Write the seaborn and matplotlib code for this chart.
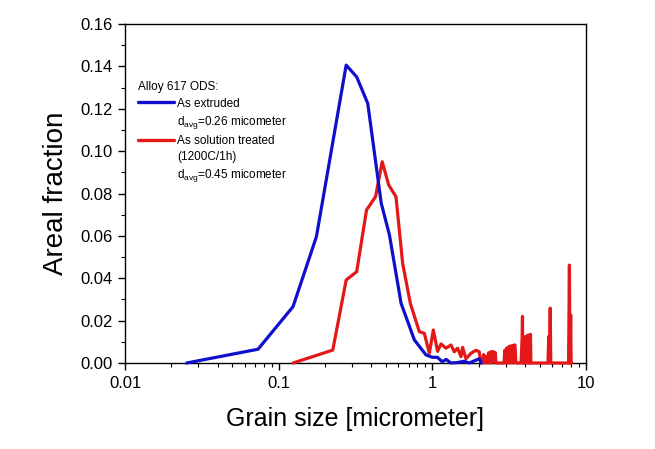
import matplotlib
matplotlib.use("Agg")
import matplotlib.pyplot as plt
from matplotlib.lines import Line2D
from matplotlib.ticker import MultipleLocator
import numpy as np
import pandas as pd
import seaborn as sns

# -----------------------------------------
# Data
# -----------------------------------------

# as extruded
ext_size = [0.0252, 0.0734, 0.124, 0.176, 0.275, 0.322, 0.380, 0.465, 0.526,
            0.626, 0.764, 0.910, 1.0, 1.078, 1.16, 1.23, 1.32, 1.45, 1.61,
            1.74, 1.90, 2.02, 2.08]
ext_frac = [0.0, 0.0065, 0.0266, 0.0596, 0.1406, 0.135, 0.1225, 0.0754, 0.0604,
            0.0282, 0.0109, 0.0038, 0.0027, 0.0027, 0.0006, 0.0017, 0.0, 0.0002,
            0.0008, 0.0, 0.0012, 0.002, 0.0]

# as solution treated (1200C/1h)
sol_size = [0.124, 0.225, 0.275, 0.322, 0.373, 0.427, 0.472, 0.520, 0.58,
            0.641, 0.72, 0.823, 0.887, 0.956, 1.015, 1.082, 1.139, 1.227, 1.322,
            1.390, 1.460, 1.536, 1.574, 1.655, 1.784, 1.922, 2.02, 2.07,
            2.12, 2.16, 2.19, 2.24, 2.28, 2.32, 2.36, 2.40, 2.44, 2.48, 2.52, 2.56, 2.60,
            2.93, 2.96, 3.0, 3.04, 3.08, 3.12, 3.16, 3.2, 3.25, 3.3, 3.35, 3.4, 3.45, 3.5,
            3.78, 3.84, 3.86, 3.88, 3.9, 3.93, 3.97, 4.0, 4.05, 4.1, 4.15, 4.2, 4.25,
            4.3, 4.35, 4.38,
            5.66, 5.72, 5.78, 5.85, 5.9,
            7.7, 7.8, 7.86, 7.95, 8.0, 8.05]
sol_frac = [0.0, 0.0061, 0.0392, 0.0431, 0.0722, 0.0785, 0.095, 0.084, 0.0785,
            0.047, 0.028, 0.0148, 0.014, 0.0046, 0.0156, 0.0055, 0.009, 0.007, 0.0085,
            0.0053, 0.007, 0.003, 0.0074, 0.002, 0.0046, 0.006, 0.0053, 0.0,
            0.0, 0.004, 0.0, 0.003, 0.0, 0.0048, 0.0, 0.0053, 0.0, 0.0055, 0.001, 0.005, 0.0,
            0.0, 0.006, 0.0, 0.007, 0.0, 0.0075, 0.0, 0.008, 0.0, 0.0082, 0.0, 0.0085, 0.0085, 0.0,
            0.0, 0.012, 0.022, 0.0, 0.009, 0.0, 0.012, 0.0, 0.0125, 0.0, 0.013, 0.0, 0.0132,
            0.0, 0.0135, 0.0,
            0.0, 0.0125, 0.0, 0.0259, 0.0,
            0.0, 0.0462, 0.0, 0.0226, 0.0, 0.0]

df_ext = pd.DataFrame({"size": ext_size, "frac": ext_frac})
df_sol = pd.DataFrame({"size": sol_size, "frac": sol_frac})

blue = "#1010cc"
red = "#e41818"

# -----------------------------------------
# Plot
# -----------------------------------------

sns.set_theme(style="ticks")
plt.rcParams["font.family"] = ["Liberation Sans", "DejaVu Sans"]
plt.rcParams["text.color"] = "black"
plt.rcParams["axes.labelcolor"] = "black"

fig = plt.figure(figsize=(6.55, 4.49), dpi=100)
ax = fig.add_axes([125 / 655, 1 - 363 / 449, (586 - 125) / 655, (363 - 24) / 449])

sns.lineplot(data=df_ext, x="size", y="frac", color=blue, linewidth=2.3,
             estimator=None, sort=False, ax=ax, clip_on=False, zorder=5)
sns.lineplot(data=df_sol, x="size", y="frac", color=red, linewidth=2.3,
             estimator=None, sort=False, ax=ax, clip_on=False, zorder=4)

ax.set_xscale("log")
ax.set_xlim(0.01, 10)
ax.set_ylim(0, 0.16)
ax.set_xticks([0.01, 0.1, 1, 10])
ax.set_xticklabels(["0.01", "0.1", "1", "10"])
ax.set_yticks(np.arange(0, 0.161, 0.02))
ax.set_yticklabels(["%.2f" % v for v in np.arange(0, 0.161, 0.02)])
ax.yaxis.set_minor_locator(MultipleLocator(0.01))

for side in ["top", "right", "left", "bottom"]:
    ax.spines[side].set_visible(True)
    ax.spines[side].set_linewidth(1.0)
    ax.spines[side].set_color("black")

ax.tick_params(which="major", direction="out", length=5, width=1.0,
               labelsize=12, colors="black", pad=4)
ax.tick_params(which="minor", direction="out", length=3, width=0.8, colors="black")

ax.set_xlabel("Grain size [micrometer]", fontsize=18, labelpad=12)
ax.set_ylabel("Areal fraction", fontsize=20, labelpad=8)

# legend
blank = Line2D([], [], color="none")
handles = [Line2D([], [], color=blue, linewidth=2.4), blank,
           Line2D([], [], color=red, linewidth=2.4), blank, blank]
labels = ["As extruded", "d$_{\\mathregular{avg}}$=0.26 micometer",
          "As solution treated", "(1200C/1h)",
          "d$_{\\mathregular{avg}}$=0.45 micometer"]
leg = ax.legend(handles, labels, title="Alloy 617 ODS:", loc="upper left",
                bbox_to_anchor=(0.01, 0.855), frameon=False, fontsize=8.5,
                title_fontsize=8.5, alignment="left", handlelength=3.1,
                handletextpad=0.2, labelspacing=0.35, borderpad=0.2)

fig.savefig("out.png", dpi=100, facecolor="white")
